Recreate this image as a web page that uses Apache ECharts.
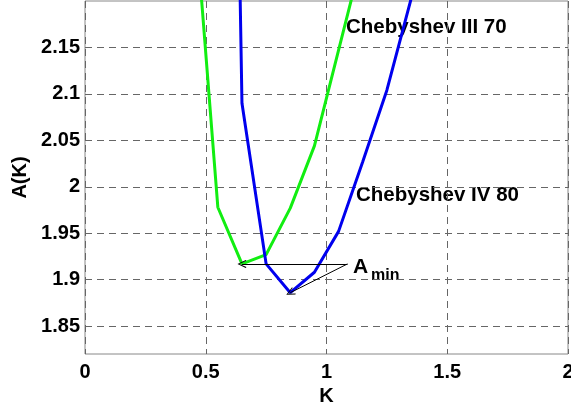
<!DOCTYPE html>
<html>
<head>
<meta charset="utf-8">
<script src="https://cdn.jsdelivr.net/npm/echarts@6/dist/echarts.min.js"></script>
<style>
html,body{margin:0;padding:0;background:#fff;}
#chart{width:571px;height:406px;}
</style>
</head>
<body>
<div id="chart"></div>
<script>
// Data
const kGreen = [0.45, 0.55, 0.65, 0.75, 0.85, 0.95, 1.05, 1.15];
const aGreen = [2.31, 1.978, 1.917, 1.927, 1.977, 2.044, 2.147, 2.25];
const kBlue = [0.55, 0.65, 0.75, 0.85, 0.95, 1.05, 1.15, 1.25, 1.35, 1.45];
const aBlue = [3.6, 2.09, 1.917, 1.886, 1.908, 1.952, 2.027, 2.104, 2.202, 2.31];
const yTicks = [1.85, 1.9, 1.95, 2, 2.05, 2.1, 2.15];
const xTicks = [0, 0.5, 1, 1.5, 2];
const seriesNames = ['Chebyshev III 70', 'Chebyshev IV 80'];

function pairs(ks, as) { return ks.map((k, i) => [k, as[i]]); }
function minPoint(ks, as) {
  let idx = 0;
  as.forEach((v, i) => { if (v < as[idx]) idx = i; });
  return [ks[idx], as[idx]];
}
const greenMin = minPoint(kGreen, aGreen);
const blueMin = minPoint(kBlue, aBlue);
const labelAnchor = [1.087, 1.917];

const FONT = '"Liberation Sans", Arial, Helvetica, sans-serif';
const chevron = 'path://M5,0 L10,8 L9,8.7 L5,1.9 L1,8.7 L0,8 Z';

const chart = echarts.init(document.getElementById('chart'), null, {renderer: 'canvas'});
chart.setOption({
  animation: false,
  backgroundColor: '#fff',
  grid: {left: 85, right: 3, top: 1, bottom: 52, show: true, borderColor: '#888', borderWidth: 1,
    backgroundColor: 'transparent', containLabel: false, outerBoundsMode: 'none'},
  xAxis: {
    type: 'value', min: 0, max: 2, interval: 0.5,
    name: 'K', nameLocation: 'middle', nameGap: 24,
    nameTextStyle: {fontFamily: FONT, fontWeight: 'bold', fontSize: 20, color: '#000'},
    axisLine: {show: false}, axisTick: {show: false},
    axisLabel: {fontFamily: FONT, fontWeight: 'bold', fontSize: 20, color: '#000', margin: 8,
      formatter: v => xTicks.includes(v) ? String(v) : ''},
    splitLine: {show: true, lineStyle: {color: '#666', width: 1, type: [7, 5]}}
  },
  yAxis: {
    type: 'value', min: 1.82, max: 2.2,
    name: 'A(K)', nameLocation: 'middle', nameGap: 52,
    nameTextStyle: {fontFamily: FONT, fontWeight: 'bold', fontSize: 20, color: '#000'},
    axisLine: {show: false},
    axisTick: {show: false, customValues: yTicks},
    axisLabel: {fontFamily: FONT, fontWeight: 'bold', fontSize: 20, color: '#000', margin: 5,
      customValues: yTicks, formatter: v => String(+v.toFixed(2))},
    splitLine: {show: true, lineStyle: {color: '#666', width: 1, type: [7, 5]}}
  },
  series: [
    {
      name: seriesNames[0], type: 'line', data: pairs(kGreen, aGreen),
      showSymbol: false, symbol: 'none', clip: true,
      lineStyle: {color: '#11ee11', width: 3}, z: 3
    },
    {
      name: seriesNames[1], type: 'line', data: pairs(kBlue, aBlue),
      showSymbol: false, symbol: 'none', clip: true,
      lineStyle: {color: '#0000ee', width: 3}, z: 4,
      markLine: {
        silent: true, animation: false,
        symbol: ['none', chevron], symbolSize: [8, 9],
        label: {show: false},
        lineStyle: {color: '#000', width: 1, type: 'solid'},
        emphasis: {disabled: true},
        data: [
          [{coord: labelAnchor}, {coord: greenMin}],
          [{coord: labelAnchor}, {coord: blueMin}]
        ]
      }
    }
  ],
  graphic: [
    {type: 'text', left: 346, top: 17, style: {text: seriesNames[0], fontFamily: FONT, fontWeight: 'bold', fontSize: 20.5, fill: '#000'}},
    {type: 'text', left: 356, top: 185, style: {text: seriesNames[1], fontFamily: FONT, fontWeight: 'bold', fontSize: 20.5, fill: '#000'}},
    {type: 'text', left: 353, top: 257, style: {text: 'A', fontFamily: FONT, fontWeight: 'bold', fontSize: 21, fill: '#000'}},
    {type: 'text', left: 371, top: 268, style: {text: 'min', fontFamily: FONT, fontWeight: 'bold', fontSize: 16, fill: '#000'}}
  ]
});
</script>
</body>
</html>
